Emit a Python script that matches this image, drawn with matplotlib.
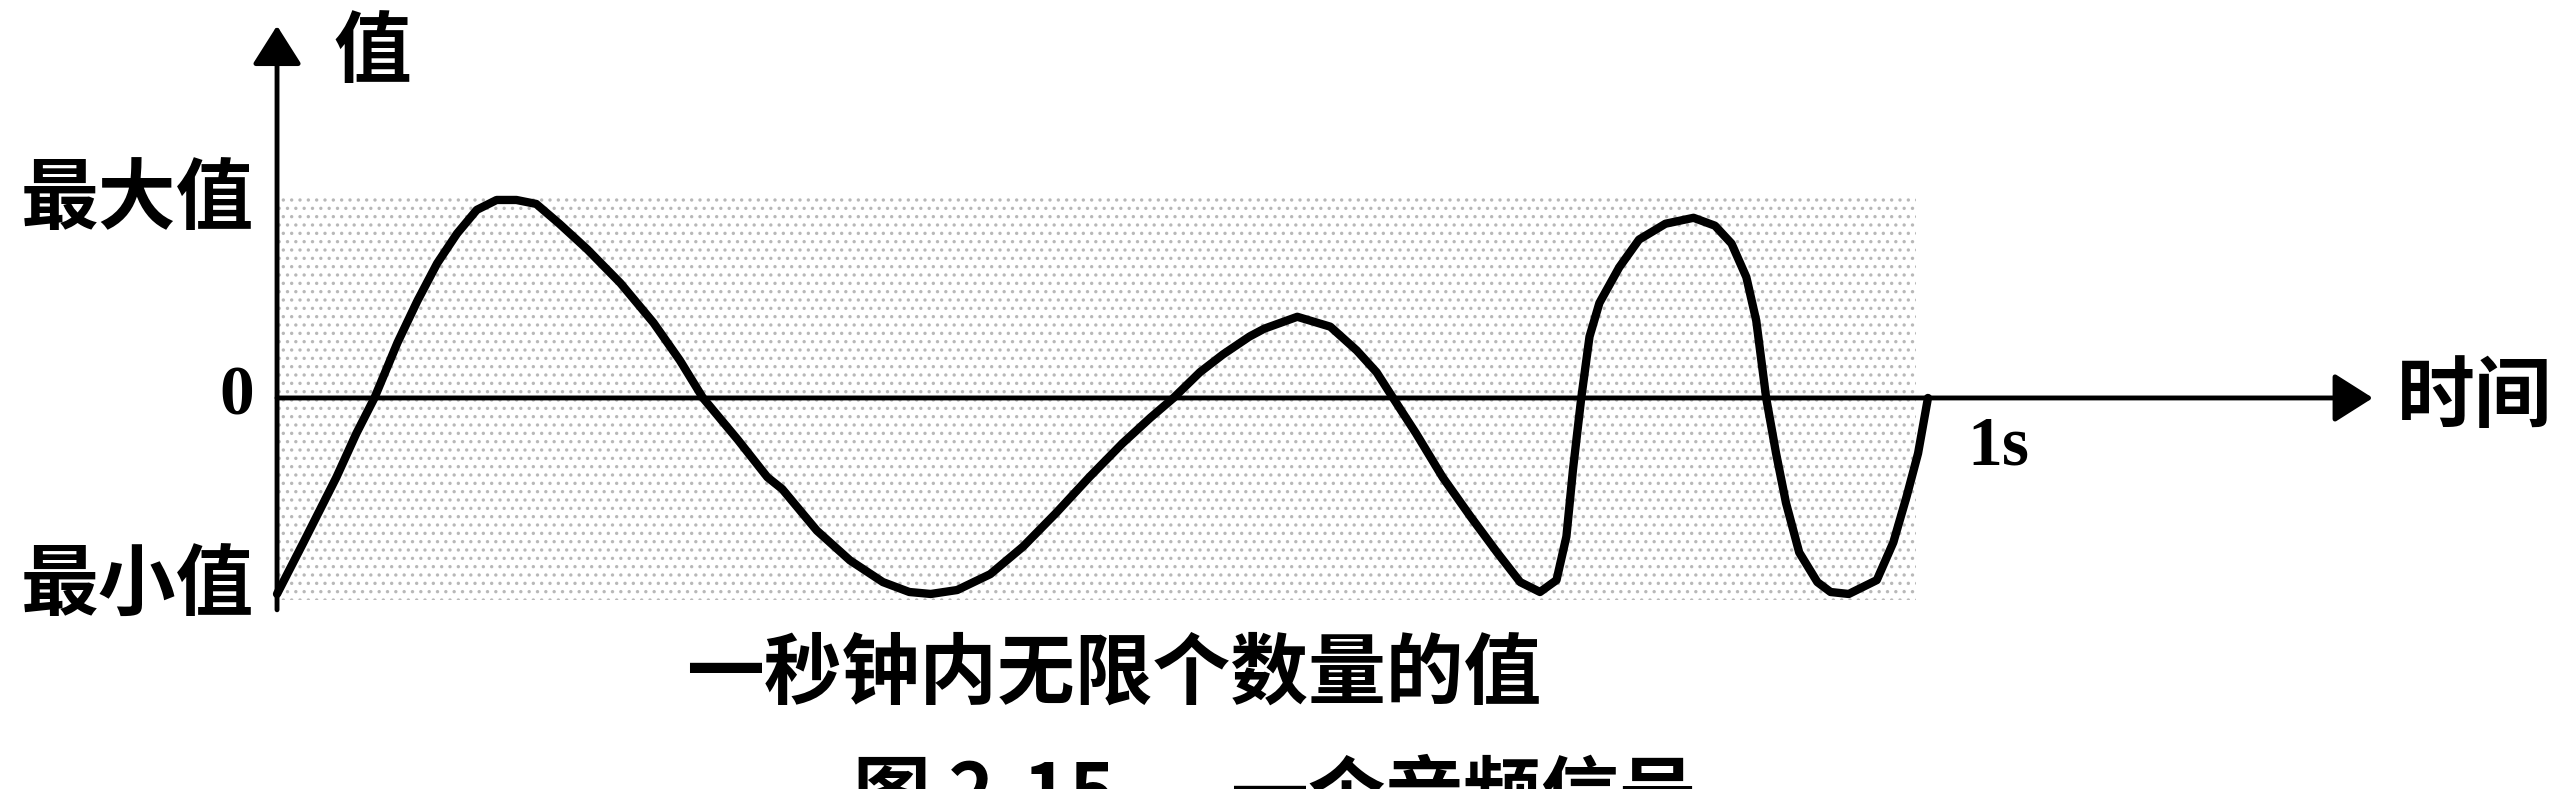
import matplotlib
matplotlib.use("Agg")
import matplotlib.pyplot as plt
from matplotlib.patches import Rectangle

plt.rcParams['font.family'] = ['Noto Sans CJK SC', 'DejaVu Sans']
plt.rcParams['hatch.linewidth'] = 1.2

# waveform: time in seconds, value in units of the max
t = [0.000, 0.016, 0.036, 0.048, 0.059, 0.073, 0.085, 0.097, 0.109, 0.121,
     0.133, 0.145, 0.157, 0.171, 0.188, 0.208, 0.228, 0.244, 0.258, 0.279,
     0.297, 0.306, 0.327, 0.347, 0.367, 0.383, 0.396, 0.412, 0.432, 0.452,
     0.472, 0.492, 0.512, 0.529, 0.543, 0.559, 0.573, 0.589, 0.598, 0.618,
     0.638, 0.654, 0.666, 0.676, 0.690, 0.706, 0.723, 0.739, 0.753, 0.765,
     0.775, 0.781, 0.785, 0.790, 0.795, 0.801, 0.813, 0.825, 0.841, 0.858,
     0.871, 0.881, 0.890, 0.896, 0.902, 0.908, 0.914, 0.922, 0.933, 0.941,
     0.952, 0.969, 0.979, 0.987, 0.994, 1.000]
v = [-0.99, -0.73, -0.40, -0.18, 0.00, 0.28, 0.49, 0.68, 0.83, 0.95,
     1.00, 1.00, 0.98, 0.88, 0.75, 0.58, 0.38, 0.19, 0.00, -0.21,
     -0.40, -0.46, -0.67, -0.82, -0.93, -0.98, -0.99, -0.97, -0.89, -0.75,
     -0.58, -0.40, -0.23, -0.10, 0.00, 0.13, 0.22, 0.31, 0.35, 0.41,
     0.36, 0.24, 0.13, 0.00, -0.18, -0.40, -0.60, -0.78, -0.93, -0.98,
     -0.92, -0.70, -0.36, 0.00, 0.31, 0.48, 0.66, 0.80, 0.88, 0.91,
     0.87, 0.78, 0.61, 0.39, 0.00, -0.28, -0.53, -0.78, -0.93, -0.98,
     -0.99, -0.92, -0.73, -0.50, -0.28, 0.00]

y_labels = ['最大值', '0', '最小值']
y_label_vals = [1.0, 0.0, -0.955]
y_name = '值'
x_name = '时间'
x_end_label = '1s'
caption = '一秒钟内无限个数量的值'
fig_num = '图 2-15'
fig_title = '一个音频信号'

fig = plt.figure(figsize=(25.71, 7.89), dpi=100)
ax = fig.add_axes([0, 0, 1, 1])
ax.set_xlim(-0.1678, 1.3895)
ax.set_ylim(-1.975, 2.010)
ax.axis('off')

# stippled band behind the wave
band = Rectangle((0, -1.02), 0.993, 2.03, facecolor='none', edgecolor='#b8b8b8',
                 hatch='..', linewidth=0, zorder=0)
ax.add_patch(band)

arrow = dict(arrowstyle='-|>,head_length=0.6,head_width=0.38', mutation_scale=40,
             lw=3.5, color='black', shrinkA=0, shrinkB=0)
ax.annotate('', xy=(0, 1.88), xytext=(0, -1.07), arrowprops=arrow, zorder=3)
ax.annotate('', xy=(1.2695, 0), xytext=(0, 0), arrowprops=arrow, zorder=3)

ax.plot(t, v, color='black', lw=6, solid_capstyle='round', solid_joinstyle='round', zorder=4)

cjk = dict(fontsize=56, fontweight='bold', color='black')
num = dict(fontsize=50, fontweight='bold', color='black', family='Liberation Serif')

for lab, val in zip(y_labels, y_label_vals):
    style = num if lab == '0' else cjk
    ax.text(-0.014, val, lab, ha='right', va='center', **style)

ax.text(0.058, 1.74, y_name, ha='center', va='center', **cjk)
ax.text(1.284, 0.0, x_name, ha='left', va='center', **cjk)
ax.text(1.024, -0.25, x_end_label, ha='left', va='center', **num)
ax.text(0.507, -1.40, caption, ha='center', va='center', **cjk)
# figure caption, cut by the bottom edge as in the scan
ax.text(0.349, -1.817, fig_num, ha='left', va='top', **cjk)
ax.text(0.577, -1.817, fig_title, ha='left', va='top', **cjk)

fig.savefig('out.png', dpi=100)
